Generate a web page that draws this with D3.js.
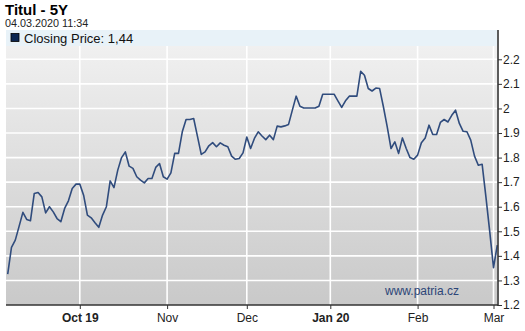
<!DOCTYPE html>
<meta charset="utf-8">
<script src="https://cdn.jsdelivr.net/npm/d3@7"></script>
<style>
body { margin: 0; background: #fff; }
text { font-family: Arial, "Liberation Sans", sans-serif; }
</style>
<body>
<script>

// closing prices, one per trading day
var prices = [
  1.326, 1.435, 1.464, 1.52, 1.577, 1.548, 1.543, 1.654, 1.658, 1.640,
  1.575, 1.600, 1.579, 1.552, 1.539, 1.593, 1.624, 1.674, 1.692, 1.692,
  1.647, 1.566, 1.555, 1.535, 1.516, 1.566, 1.600, 1.705, 1.678, 1.749,
  1.800, 1.823, 1.765, 1.756, 1.722, 1.708, 1.697, 1.715, 1.715, 1.760,
  1.776, 1.722, 1.712, 1.738, 1.817, 1.817, 1.905, 1.955, 1.955, 1.959,
  1.886, 1.813, 1.823, 1.848, 1.861, 1.844, 1.860, 1.850, 1.844, 1.806,
  1.793, 1.796, 1.819, 1.884, 1.837, 1.878, 1.905, 1.888, 1.873, 1.891,
  1.873, 1.928, 1.925, 1.929, 1.935, 1.993, 2.050, 2.009, 2.002, 2.002,
  2.002, 2.002, 2.009, 2.058, 2.058, 2.058, 2.058, 2.031, 2.004, 2.031,
  2.050, 2.050, 2.050, 2.151, 2.135, 2.081, 2.071, 2.083, 2.081, 2.006,
  1.925, 1.837, 1.864, 1.817, 1.880, 1.837, 1.800, 1.793, 1.810, 1.860,
  1.880, 1.932, 1.894, 1.894, 1.943, 1.955, 1.945, 1.972, 1.993, 1.939,
  1.907, 1.905, 1.871, 1.806, 1.769, 1.773, 1.64, 1.50, 1.352, 1.444
];

// month ticks (index of trading day) and labels
var monthIdx = [19, 42, 63, 85, 108, 128];
var monthLabels = ["Oct 19", "Nov", "Dec", "Jan 20", "Feb", "Mar"];
var yTicks = [1.2, 1.3, 1.4, 1.5, 1.6, 1.7, 1.8, 1.9, 2, 2.1, 2.2];

var width = 525, height = 331;
var pLeft = 6, pRight = 497, pTop = 46, pBottom = 305;

var x = d3.scaleLinear().domain([0, prices.length - 1]).range([7.7, 497.3]);
var y = d3.scaleLinear().domain([1.2, 2.2]).range([305, 59.3]);

var svg = d3.select("body").append("svg")
    .attr("width", width)
    .attr("height", height);

var grad = svg.append("defs").append("linearGradient")
    .attr("id", "bg").attr("x1", 0).attr("y1", 0).attr("x2", 0).attr("y2", 1);
grad.append("stop").attr("offset", "0%").attr("stop-color", "#f0f0f0");
grad.append("stop").attr("offset", "100%").attr("stop-color", "#c9c9c9");

// title
svg.append("text").attr("x", 5).attr("y", 15)
    .style("font-size", "15px").style("font-weight", "bold")
    .text("Titul - 5Y");
svg.append("text").attr("x", 5).attr("y", 27)
    .style("font-size", "10.8px").attr("fill", "#222")
    .text("04.03.2020 11:34");

// legend band
svg.append("rect").attr("x", pLeft).attr("y", 30)
    .attr("width", pRight - pLeft).attr("height", pTop - 30)
    .attr("fill", "#e8f2f8");
svg.append("rect").attr("x", 11).attr("y", 33.5).attr("width", 8).attr("height", 8)
    .attr("fill", "#0d2651").attr("stroke", "#000").attr("stroke-width", 0.8);
svg.append("text").attr("x", 24).attr("y", 43)
    .style("font-size", "13px").attr("fill", "#111")
    .text("Closing Price: 1,44");

// plot background
svg.append("rect").attr("x", pLeft).attr("y", pTop)
    .attr("width", pRight - pLeft).attr("height", pBottom - pTop)
    .attr("fill", "url(#bg)");

// grid
svg.append("g").selectAll("line").data(yTicks.slice(1)).enter().append("line")
    .attr("x1", pLeft).attr("x2", pRight)
    .attr("y1", function(d) { return y(d); })
    .attr("y2", function(d) { return y(d); })
    .attr("stroke", "#fff").attr("stroke-width", 1.6);
svg.append("g").selectAll("line").data(monthIdx).enter().append("line")
    .attr("x1", function(d) { return x(d); })
    .attr("x2", function(d) { return x(d); })
    .attr("y1", pTop).attr("y2", pBottom)
    .attr("stroke", "#fff").attr("stroke-width", 1.6);

// watermark
svg.append("text").attr("x", 422).attr("y", 295)
    .attr("text-anchor", "middle")
    .style("font-size", "12px").attr("fill", "#2c4577")
    .text("www.patria.cz");

// price line
var line = d3.line()
    .x(function(d, i) { return x(i); })
    .y(function(d) { return y(d); });

svg.append("path").datum(prices)
    .attr("d", line)
    .attr("fill", "none")
    .attr("stroke", "#304c7d")
    .attr("stroke-width", 1.6)
    .attr("stroke-linejoin", "round");

// axes
var xAxis = d3.axisBottom(x).tickValues(monthIdx)
    .tickSize(4).tickSizeOuter(0)
    .tickFormat(function(d, i) { return monthLabels[i]; });
var gx = svg.append("g").attr("transform", "translate(0," + pBottom + ")").call(xAxis);
gx.select(".domain").attr("d", "M" + pLeft + ",0H" + (pRight + 1))
    .attr("stroke", "#333").attr("stroke-width", 1.6);
gx.selectAll(".tick line").attr("stroke", "#333");
gx.selectAll(".tick text")
    .attr("y", 8)
    .style("font-size", "12px")
    .style("font-family", "Arial, 'Liberation Sans', sans-serif")
    .attr("fill", "#222")
    .style("font-weight", function(d, i) { return monthLabels[i].indexOf(" ") > 0 ? "bold" : "normal"; });

var yAxis = d3.axisRight(y).tickValues(yTicks)
    .tickSize(4).tickSizeOuter(0)
    .tickFormat(d3.format("~g"));
var gy = svg.append("g").attr("transform", "translate(" + (pRight + 1) + ",0)").call(yAxis);
gy.select(".domain").attr("d", "M0,30V" + (pBottom + 1))
    .attr("stroke", "#333").attr("stroke-width", 1.6);
gy.selectAll(".tick line").attr("stroke", "#333");
gy.selectAll(".tick text")
    .attr("x", 5)
    .style("font-size", "12px")
    .style("font-family", "Arial, 'Liberation Sans', sans-serif")
    .attr("fill", "#222");

</script>
</body>
